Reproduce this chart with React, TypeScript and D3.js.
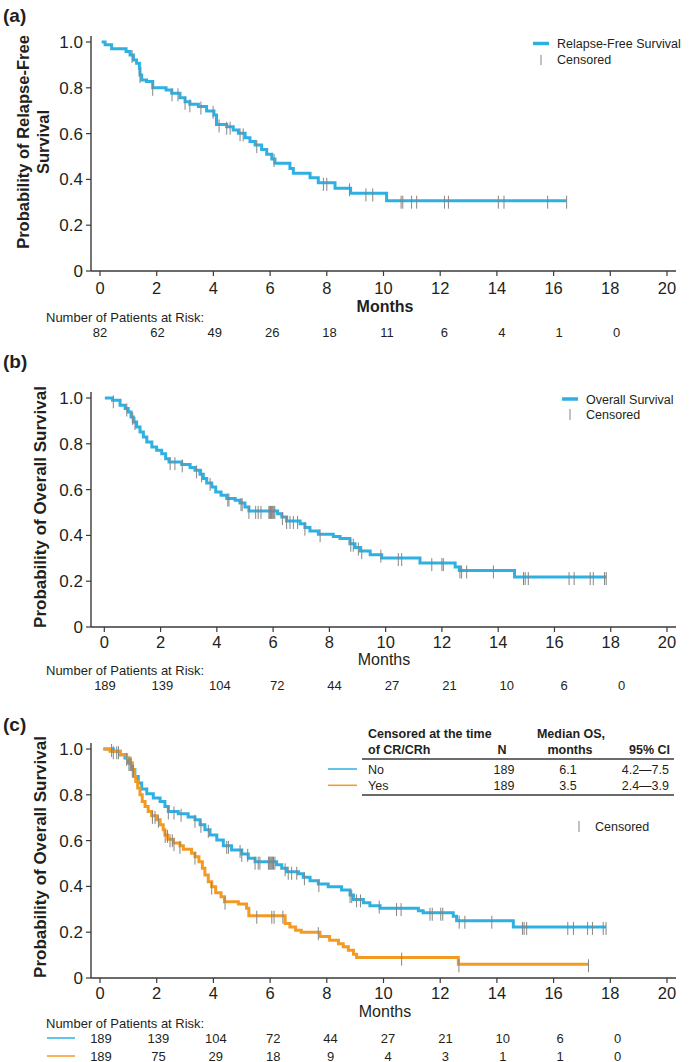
import React from "react";
import * as d3 from "d3";

// ---------- DATA ----------
const xTicks = [0, 2, 4, 6, 8, 10, 12, 14, 16, 18, 20];
const yTicks = [0, 0.2, 0.4, 0.6, 0.8, 1.0];
const riskTimes = [0, 2, 4, 6, 8, 10, 12, 14, 16, 18];

// (a) Relapse-free survival
const rfsTime = [0.06, 0.18, 0.41, 0.92, 1.06, 1.18, 1.29, 1.39, 1.41, 1.47, 1.64, 1.86, 2.33, 2.53, 2.82, 3.0, 3.17, 3.47, 3.76, 4.02, 4.11, 4.47, 4.7, 4.88, 5.12, 5.29, 5.47, 5.7, 5.88, 6.06, 6.17, 6.7, 6.82, 7.41, 7.7, 8.29, 8.84, 10.11];
const rfsSurv = [1.0, 0.988, 0.97, 0.958, 0.943, 0.921, 0.907, 0.885, 0.856, 0.834, 0.827, 0.8, 0.79, 0.776, 0.757, 0.739, 0.728, 0.718, 0.699, 0.681, 0.64, 0.63, 0.616, 0.601, 0.582, 0.565, 0.55, 0.531, 0.51, 0.489, 0.47, 0.448, 0.427, 0.407, 0.385, 0.361, 0.339, 0.307];
const rfsEnd = 16.46;
const rfsCensor = [1.13, 1.41, 1.86, 2.54, 2.75, 3.0, 3.17, 3.56, 3.99, 4.2, 4.47, 4.59, 4.94, 5.05, 5.53, 6.14, 7.88, 8.0, 8.8, 9.38, 9.62, 10.62, 10.68, 10.99, 11.17, 12.15, 12.29, 14.05, 14.25, 15.79, 16.46];
const rfsRisk = [82, 62, 49, 26, 18, 11, 6, 4, 1, 0];

// (b) Overall survival
const osTime = [0.02, 0.29, 0.56, 0.74, 0.85, 0.95, 1.03, 1.15, 1.27, 1.39, 1.51, 1.69, 1.86, 2.04, 2.18, 2.3, 2.75, 3.05, 3.22, 3.4, 3.52, 3.64, 3.82, 3.96, 4.15, 4.35, 4.65, 4.82, 5.0, 5.14, 6.16, 6.31, 6.48, 6.96, 7.13, 7.31, 7.61, 8.14, 8.38, 8.73, 8.91, 9.09, 9.45, 9.86, 11.22, 12.47, 12.62, 14.58];
const osSurv = [1.0, 0.99, 0.968, 0.954, 0.939, 0.917, 0.895, 0.873, 0.852, 0.83, 0.808, 0.786, 0.772, 0.757, 0.735, 0.72, 0.71, 0.696, 0.684, 0.667, 0.648, 0.629, 0.611, 0.59, 0.575, 0.561, 0.553, 0.541, 0.524, 0.507, 0.495, 0.48, 0.463, 0.451, 0.434, 0.419, 0.405, 0.395, 0.386, 0.364, 0.347, 0.332, 0.316, 0.301, 0.279, 0.262, 0.247, 0.218];
const osEnd = 17.84;
const osCensor = [0.32, 0.8, 1.01, 1.09, 2.34, 2.51, 2.77, 3.28, 3.46, 3.76, 4.39, 4.43, 4.86, 4.9, 5.14, 5.38, 5.47, 5.57, 5.85, 5.88, 5.91, 5.94, 5.97, 6.0, 6.03, 6.06, 6.33, 6.48, 6.6, 6.72, 6.87, 7.13, 7.67, 8.76, 8.85, 9.03, 9.15, 9.83, 10.45, 10.57, 11.64, 12.0, 12.05, 12.64, 12.7, 12.88, 13.83, 14.9, 14.96, 15.07, 16.52, 16.7, 17.27, 17.38, 17.78, 17.84];
const osRisk = [189, 139, 104, 72, 44, 27, 21, 10, 6, 0];

// (c) Censored at time of CR/CRh: No / Yes
const noTime = [0.12, 0.47, 0.71, 0.88, 1.0, 1.12, 1.23, 1.35, 1.47, 1.65, 1.88, 2.12, 2.29, 2.41, 2.76, 3.11, 3.35, 3.53, 3.7, 3.88, 4.12, 4.35, 4.64, 5.0, 5.23, 5.47, 6.23, 6.41, 6.58, 7.0, 7.17, 7.41, 7.7, 8.05, 8.52, 8.82, 8.94, 9.29, 9.52, 9.88, 11.23, 11.4, 12.46, 12.58, 14.58];
const noSurv = [1.0, 0.99, 0.975, 0.961, 0.939, 0.91, 0.88, 0.851, 0.825, 0.805, 0.786, 0.771, 0.749, 0.727, 0.717, 0.703, 0.691, 0.669, 0.647, 0.625, 0.603, 0.577, 0.559, 0.542, 0.523, 0.508, 0.494, 0.479, 0.464, 0.455, 0.44, 0.425, 0.41, 0.399, 0.384, 0.362, 0.343, 0.329, 0.316, 0.305, 0.294, 0.285, 0.27, 0.25, 0.223];
const noEnd = 17.85;
const noCensor = [0.41, 0.47, 0.59, 0.65, 0.94, 1.02, 1.06, 1.1, 1.14, 1.18, 2.41, 2.61, 2.86, 3.35, 3.56, 3.82, 4.47, 4.53, 4.94, 5.0, 5.21, 5.47, 5.58, 5.64, 5.94, 5.97, 6.0, 6.03, 6.06, 6.09, 6.12, 6.17, 6.53, 6.64, 6.76, 6.94, 7.21, 7.72, 8.82, 8.88, 9.05, 9.19, 9.85, 10.46, 10.62, 11.64, 11.72, 12.02, 12.09, 12.67, 12.87, 13.82, 14.9, 14.96, 15.05, 16.5, 16.7, 17.2, 17.37, 17.75, 17.85];
const noRisk = [189, 139, 104, 72, 44, 27, 21, 10, 6, 0];

const yesTime = [0.12, 0.35, 0.71, 0.94, 1.06, 1.14, 1.21, 1.26, 1.33, 1.41, 1.49, 1.59, 1.7, 1.82, 2.0, 2.12, 2.23, 2.29, 2.39, 2.59, 2.82, 2.94, 3.23, 3.35, 3.49, 3.61, 3.7, 3.82, 3.94, 4.08, 4.27, 4.39, 4.88, 5.17, 5.25, 6.53, 6.7, 6.9, 7.1, 7.76, 8.1, 8.41, 8.58, 8.76, 8.94, 9.05, 12.64];
const yesSurv = [1.0, 0.99, 0.975, 0.961, 0.939, 0.91, 0.88, 0.858, 0.83, 0.8, 0.771, 0.749, 0.727, 0.708, 0.691, 0.669, 0.647, 0.625, 0.606, 0.589, 0.577, 0.562, 0.545, 0.53, 0.508, 0.479, 0.45, 0.42, 0.399, 0.372, 0.355, 0.333, 0.323, 0.305, 0.272, 0.238, 0.223, 0.209, 0.2, 0.181, 0.165, 0.15, 0.136, 0.121, 0.104, 0.089, 0.06];
const yesEnd = 17.23;
const yesCensor = [1.85, 1.94, 2.06, 2.3, 2.38, 2.47, 2.55, 2.61, 2.82, 3.35, 3.94, 4.41, 5.53, 6.06, 6.14, 6.45, 7.7, 10.64, 12.66, 17.23];
const yesRisk = [189, 75, 29, 18, 9, 4, 3, 1, 1, 0];

const tableGroups = ["No", "Yes"];
const tableN = ["189", "189"];
const tableMedian = ["6.1", "3.5"];
const tableCI = ["4.2\u20147.5", "2.4\u20143.9"];

// ---------- STYLE ----------
const FONT = "'Liberation Sans', Arial, Helvetica, sans-serif";
const BLUE = "#2fb0e3";
const ORANGE = "#f39a24";
const GREY = "#858585";
const AXIS = "#3a3a3a";
const TXT = "#231f20";

type Series = { time: number[]; surv: number[]; end: number; censor: number[]; color: string; width: number };

function survAt(s: Series, t: number) {
  let v = s.surv[0];
  for (let i = 0; i < s.time.length; i++) if (s.time[i] <= t + 1e-9) v = s.surv[i];
  return v;
}

function KMPanel(props: {
  x0: number; x1: number; yTop: number; yBot: number; series: Series[]; tickDy: number;
}) {
  const { x0, x1, yTop, yBot, series, tickDy } = props;
  const x = d3.scaleLinear().domain([0, 20]).range([x0, x1]);
  const y = d3.scaleLinear().domain([0, 1]).range([yBot, yTop]);
  const axisX = 91;
  const line = d3
    .line<[number, number]>()
    .x((d) => x(d[0]))
    .y((d) => y(d[1]))
    .curve(d3.curveStepAfter);
  return (
    <g>
      <line x1={axisX} x2={axisX} y1={yTop - 6} y2={yBot} stroke={AXIS} strokeWidth={1.4} />
      <line x1={axisX} x2={676} y1={yBot} y2={yBot} stroke={AXIS} strokeWidth={1.4} />
      {yTicks.map((t) => (
        <g key={"y" + t}>
          <line x1={axisX - 5} x2={axisX} y1={y(t)} y2={y(t)} stroke={AXIS} strokeWidth={1.2} />
          <text x={83} y={y(t) + 6} textAnchor="end" fontSize={17} fill={TXT}>
            {t === 0 ? "0" : t.toFixed(1)}
          </text>
        </g>
      ))}
      {xTicks.map((t) => (
        <g key={"x" + t}>
          <line x1={x(t)} x2={x(t)} y1={yBot} y2={yBot + 5} stroke={AXIS} strokeWidth={1.2} />
          <text x={x(t)} y={yBot + tickDy} textAnchor="middle" fontSize={16.5} fill={TXT}>
            {t}
          </text>
        </g>
      ))}
      {series.map((s, i) => {
        const pts: [number, number][] = s.time.map((t, k) => [t, s.surv[k]] as [number, number]);
        pts.push([s.end, s.surv[s.surv.length - 1]]);
        return <path key={"c" + i} d={line(pts) || ""} fill="none" stroke={s.color} strokeWidth={s.width} />;
      })}
      {series.map((s, i) =>
        s.censor.map((t, k) => {
          const v = survAt(s, t);
          return (
            <line key={"t" + i + "-" + k} x1={x(t)} x2={x(t)} y1={y(v) - 5} y2={y(v) + 8} stroke={GREY} strokeWidth={1} />
          );
        })
      )}
    </g>
  );
}

function RiskRow(props: { values: number[]; y: number; start: number }) {
  const r = d3.scaleLinear().domain([0, 18]).range([props.start, props.start + 18 * 28.7]);
  return (
    <g>
      {props.values.map((v, i) => (
        <text key={i} x={r(riskTimes[i])} y={props.y} textAnchor="middle" fontSize={13} fill={TXT}>
          {v}
        </text>
      ))}
    </g>
  );
}

export default function App() {
  const sA: Series[] = [{ time: rfsTime, surv: rfsSurv, end: rfsEnd, censor: rfsCensor, color: BLUE, width: 3 }];
  const sB: Series[] = [{ time: osTime, surv: osSurv, end: osEnd, censor: osCensor, color: BLUE, width: 3 }];
  const sC: Series[] = [
    { time: noTime, surv: noSurv, end: noEnd, censor: noCensor, color: BLUE, width: 3 },
    { time: yesTime, surv: yesSurv, end: yesEnd, censor: yesCensor, color: ORANGE, width: 3 },
  ];
  return (
    <svg
      width={690}
      height={1062}
      style={{ position: "absolute", left: 0, top: 0, background: "#fff" }}
      fontFamily={FONT}
    >
      <rect width={690} height={1062} fill="#fff" />
      {/* ---------- Panel (a) ---------- */}
      <text x={3} y={22} fontSize={19} fontWeight="bold" fill={TXT}>(a)</text>
      <text transform="translate(29,142) rotate(-90)" textAnchor="middle" fontSize={16.5} fontWeight="bold" fill={TXT}>
        Probability of Relapse-Free
      </text>
      <text transform="translate(49,142) rotate(-90)" textAnchor="middle" fontSize={16.5} fontWeight="bold" fill={TXT}>
        Survival
      </text>
      <KMPanel x0={100} x1={667} yTop={42} yBot={271} series={sA} tickDy={22.5} />
      <line x1={533} x2={549} y1={43.5} y2={43.5} stroke={BLUE} strokeWidth={3.5} />
      <text x={557} y={48} fontSize={12.5} fill={TXT}>Relapse-Free Survival</text>
      <line x1={541} x2={541} y1={55} y2={65} stroke={GREY} strokeWidth={1} />
      <text x={557} y={64} fontSize={12.5} fill={TXT}>Censored</text>
      <text x={385} y={312} textAnchor="middle" fontSize={16} fontWeight="bold" fill={TXT}>Months</text>
      <text x={46} y={321.5} fontSize={13} fill={TXT}>Number of Patients at Risk:</text>
      <RiskRow values={rfsRisk} y={337} start={100} />

      {/* ---------- Panel (b) ---------- */}
      <text x={3} y={368} fontSize={19} fontWeight="bold" fill={TXT}>(b)</text>
      <text transform="translate(46,507) rotate(-90)" textAnchor="middle" fontSize={17} fontWeight="bold" fill={TXT}>
        Probability of Overall Survival
      </text>
      <KMPanel x0={104.3} x1={667} yTop={398} yBot={627} series={sB} tickDy={21} />
      <line x1={562} x2={578} y1={399} y2={399} stroke={BLUE} strokeWidth={3.5} />
      <text x={586} y={403.5} fontSize={12.5} fill={TXT}>Overall Survival</text>
      <line x1={570} x2={570} y1={409} y2={420} stroke={GREY} strokeWidth={1} />
      <text x={586} y={419} fontSize={12.5} fill={TXT}>Censored</text>
      <text x={384} y={665} textAnchor="middle" fontSize={16} fill={TXT}>Months</text>
      <text x={46} y={675} fontSize={13} fill={TXT}>Number of Patients at Risk:</text>
      <RiskRow values={osRisk} y={690} start={105} />

      {/* ---------- Panel (c) ---------- */}
      <text x={3} y={731} fontSize={19} fontWeight="bold" fill={TXT}>(c)</text>
      <text transform="translate(46,857) rotate(-90)" textAnchor="middle" fontSize={17} fontWeight="bold" fill={TXT}>
        Probability of Overall Survival
      </text>
      <KMPanel x0={100} x1={667} yTop={749} yBot={978} series={sC} tickDy={21} />
      {/* table */}
      <text x={368} y={738} fontSize={12.5} fontWeight="bold" fill={TXT}>Censored at the time</text>
      <text x={368} y={753.5} fontSize={12.5} fontWeight="bold" fill={TXT}>of CR/CRh</text>
      <text x={502} y={753.5} textAnchor="middle" fontSize={12.5} fontWeight="bold" fill={TXT}>N</text>
      <text x={571} y={738} textAnchor="middle" fontSize={12.5} fontWeight="bold" fill={TXT}>Median OS,</text>
      <text x={570} y={753.5} textAnchor="middle" fontSize={12.5} fontWeight="bold" fill={TXT}>months</text>
      <text x={670} y={753.5} textAnchor="end" fontSize={12.5} fontWeight="bold" fill={TXT}>95% CI</text>
      <line x1={362} x2={674} y1={759} y2={759} stroke={AXIS} strokeWidth={1.3} />
      <line x1={362} x2={674} y1={795} y2={795} stroke={AXIS} strokeWidth={1.3} />
      {tableGroups.map((g, i) => {
        const yy = 773.5 + i * 16.3;
        return (
          <g key={g}>
            <line x1={328} x2={357} y1={yy - 4.5} y2={yy - 4.5} stroke={i === 0 ? BLUE : ORANGE} strokeWidth={1.5} />
            <text x={368} y={yy} fontSize={12.5} fill={TXT}>{g}</text>
            <text x={504} y={yy} textAnchor="middle" fontSize={12.5} fill={TXT}>{tableN[i]}</text>
            <text x={568} y={yy} textAnchor="middle" fontSize={12.5} fill={TXT}>{tableMedian[i]}</text>
            <text x={669} y={yy} textAnchor="end" fontSize={12.5} fill={TXT}>{tableCI[i]}</text>
          </g>
        );
      })}
      <line x1={579} x2={579} y1={821} y2={832} stroke={GREY} strokeWidth={1} />
      <text x={595} y={831} fontSize={12.5} fill={TXT}>Censored</text>
      <text x={385} y={1017} textAnchor="middle" fontSize={16} fill={TXT}>Months</text>
      <text x={46} y={1028} fontSize={13} fill={TXT}>Number of Patients at Risk:</text>
      <line x1={47} x2={75} y1={1038} y2={1038} stroke={BLUE} strokeWidth={1.5} />
      <line x1={47} x2={75} y1={1056} y2={1056} stroke={ORANGE} strokeWidth={1.5} />
      <RiskRow values={noRisk} y={1042.5} start={101} />
      <RiskRow values={yesRisk} y={1060.5} start={101} />
    </svg>
  );
}
